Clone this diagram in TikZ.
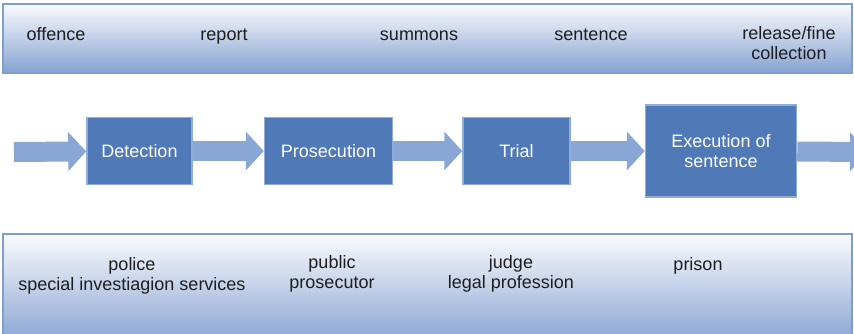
\documentclass[tikz,border=0pt]{standalone}
\usepackage{fontspec}
\setmainfont{Liberation Sans}
\usetikzlibrary{positioning}
\usetikzlibrary{arrows.meta}

\definecolor{bandline}{HTML}{7F9ED0}
\definecolor{bandblue}{HTML}{86A2D2}
\definecolor{flowblue}{HTML}{8AA6D5}
\definecolor{boxfill}{HTML}{4F7AB7}
\definecolor{boxline}{HTML}{90ACD9}
\definecolor{labeltext}{HTML}{1E1E1E}

\tikzset{
	band/.style={draw=bandline, line width=1.5pt, top color=white!96!bandblue, bottom color=bandblue},
	stage/.style={draw=boxline, line width=1.5pt, fill=boxfill, text=white, align=center,
		font=\fontsize{18}{20}\selectfont, minimum height=67pt},
	flow/.style={draw=flowblue, line width=20pt, -{Triangle[length=18pt,width=38pt]}},
	tag/.style={text=labeltext, align=center, font=\fontsize{18}{20.5}\selectfont, inner sep=0pt},
	word/.style={tag, text height=13pt, text depth=4pt}
}

\begin{document}
\begin{tikzpicture}[x=1pt, y=-1pt]
\useasboundingbox (0,0) rectangle (854,333);
%bands
\path[band] (3,4) rectangle (852,73);
\path[band] (3,234) rectangle (852,345);
%top labels
\node[word] (offence) at (56,35.5) {offence};
\node[word] (report) at (224,35.5) {report};
\node[word] (summons) at (419,35.5) {summons};
\node[word] (sentence) at (591,35.5) {sentence};
\node[tag] (release) at (789,43) {release/fine\\collection};
%stages
\node[stage, minimum width=105pt] (det) at (139.5,151) {Detection};
\node[stage, minimum width=128pt, right=71pt of det] (pro) {Prosecution};
\node[stage, minimum width=107pt, right=69pt of pro] (tri) {Trial};
\node[stage, minimum width=151pt, minimum height=92pt, right=74pt of tri] (exe) {Execution of\\sentence};
\coordinate (in) at (14,152);
\coordinate (out) at (868,152);
%\path[flow]
\draw[flow] (in) -- (det);
\draw[flow] (det) -- (pro);
\draw[flow] (pro) -- (tri);
\draw[flow] (tri) -- (exe);
\draw[flow] (exe) -- (out);
%bottom labels
\node[tag] (police) at (132,276) {police\\special investiagion services};
\node[tag] (prosecutor) at (332,274) {public\\prosecutor};
\node[tag] (judge) at (511,274) {judge\\legal profession};
\node[word] (prison) at (698,265.5) {prison};
\end{tikzpicture}
\end{document}
